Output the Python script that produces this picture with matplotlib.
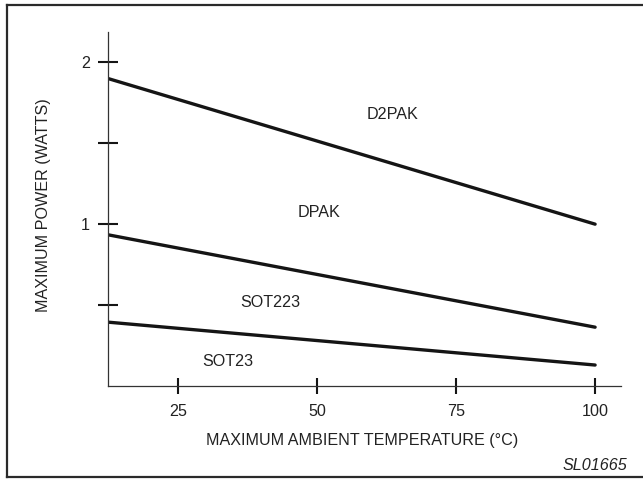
import matplotlib
matplotlib.use("Agg")
import matplotlib.pyplot as plt
from matplotlib.lines import Line2D

plt.rcParams['font.family'] = ['Liberation Sans', 'DejaVu Sans']

# Data
temps = [12.5, 100]
d2pak = [1.90, 1.00]
dpak = [0.934, 0.363]
sot23_line = [0.394, 0.129]

x_ticks = [25, 50, 75, 100]
x_ticklabels = ['25', '50', '75', '100']
y_ticks = [0.5, 1.0, 1.5, 2.0]
y_ticklabels = ['', '1', '', '2']

region_labels = ['D2PAK', 'DPAK', 'SOT223', 'SOT23']
region_x = [63.5, 50.3, 41.6, 33.9]
region_y = [1.68, 1.074, 0.515, 0.150]

W, H = 643, 479
fig = plt.figure(figsize=(W / 100, H / 100), dpi=100)
ax = fig.add_axes([108.3 / W, 1 - 385.9 / H, (620.7 - 108.3) / W, (385.9 - 31.7) / H])

lc = '#151515'
fs = 11.6
tc = '#222222'
for ys in (d2pak, dpak, sot23_line):
    ax.plot(temps, ys, color=lc, lw=2.4, solid_capstyle='round')

for lab, x, y in zip(region_labels, region_x, region_y):
    ax.text(x, y, lab, ha='center', va='center', fontsize=fs, color=tc)

ax.set_xlim(12.5, 104.6)
ax.set_ylim(0, 2.19)
ax.set_xticks(x_ticks)
ax.set_xticklabels(x_ticklabels)
ax.set_yticks(y_ticks)
ax.set_yticklabels(y_ticklabels)

for s in ('top', 'right'):
    ax.spines[s].set_visible(False)
for s in ('left', 'bottom'):
    ax.spines[s].set_color('#333333')
    ax.spines[s].set_linewidth(0.9)

ax.tick_params(axis='y', direction='inout', length=14.4, width=1.5, color=lc,
               pad=6.0, labelsize=fs, labelcolor=tc)
ax.tick_params(axis='x', direction='inout', length=12, width=1.5, color=lc,
               pad=7.3, labelsize=fs, labelcolor=tc)

ax.set_xlabel('MAXIMUM AMBIENT TEMPERATURE (°C)', fontsize=fs, color=tc)
ax.set_ylabel('MAXIMUM POWER (WATTS)', fontsize=fs, color=tc)
ax.xaxis.set_label_coords(0.495, -0.134)
ax.yaxis.set_label_coords(-0.112, 0.511)

fig.text(595 / W, 1 - 465.7 / H, 'SL01665', ha='center', va='center',
         fontsize=fs, style='italic', color=tc)

# figure border (left, top, bottom; right edge runs off the image)
bc = '#2a2a2a'
fig.add_artist(Line2D([7 / W, 7 / W], [1 - 5 / H, 1 - 476.7 / H], color=bc, lw=1.6,
                      transform=fig.transFigure))
fig.add_artist(Line2D([7 / W, 1.01], [1 - 5 / H, 1 - 5 / H], color=bc, lw=1.6,
                      transform=fig.transFigure))
fig.add_artist(Line2D([7 / W, 1.01], [1 - 476.7 / H, 1 - 476.7 / H], color=bc, lw=1.6,
                      transform=fig.transFigure))

fig.savefig('out.png', dpi=100)
